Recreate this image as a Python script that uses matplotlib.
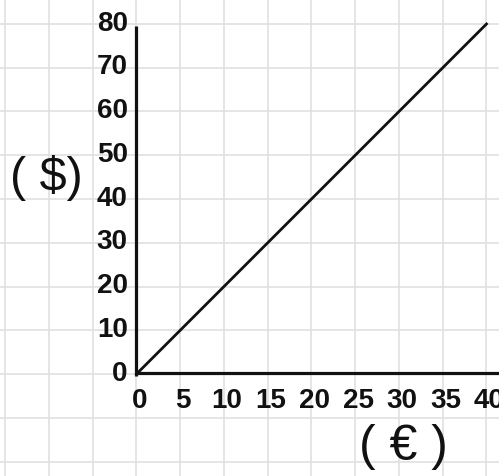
import matplotlib
matplotlib.use("Agg")
import matplotlib.pyplot as plt
import numpy as np

# data: euro -> dollar conversion line
euros = [0, 40]
dollars = [0, 80]
x_ticks = [0, 5, 10, 15, 20, 25, 30, 35, 40]
y_ticks = [0, 10, 20, 30, 40, 50, 60, 70, 80]
x_label = "( € )"
y_label = "( $)"

FONT = ["Liberation Sans Narrow", "Liberation Sans", "DejaVu Sans"]
GRID_COLOR = "#e0e0e0"
INK = "#111111"

fig = plt.figure(figsize=(4.99, 4.77), dpi=100)
fig.patch.set_facecolor("white")
ax = fig.add_axes([0, 0, 1, 1])
ax.set_xlim(-15.6, 41.43)
ax.set_ylim(-23.31, 85.71)
ax.axis("off")

# graph paper background
for gx in np.arange(-15, 45, 5):
    ax.axvline(gx, color=GRID_COLOR, linewidth=1.2, zorder=0)
for gy in np.arange(-20, 90, 10):
    ax.axhline(gy, color=GRID_COLOR, linewidth=1.2, zorder=0)

# hand drawn axes
ax.plot([0, 0], [-0.5, 79.5], color=INK, linewidth=2.3, solid_capstyle="butt", zorder=2)
ax.plot([0, 41.43], [0.3, 0.3], color=INK, linewidth=2.3, solid_capstyle="butt", zorder=2)

ax.plot(euros, dollars, color=INK, linewidth=2.0, zorder=3)

for t in y_ticks:
    ax.text(-1.0, t + 0.3, str(t), ha="right", va="center", fontsize=20,
            fontweight="bold", family=FONT, color=INK)
for t in x_ticks:
    ax.text(t + 0.35, -5.9, str(t), ha="center", va="center", fontsize=20,
            fontweight="bold", family=FONT, color=INK)

ax.text(-10.3, 45, y_label, ha="center", va="center", fontsize=35, family=FONT, color=INK)
ax.text(30.5, -16.5, x_label, ha="center", va="center", fontsize=36, family=FONT, color=INK)

fig.savefig("out.png", dpi=100, facecolor="white")
plt.close()
